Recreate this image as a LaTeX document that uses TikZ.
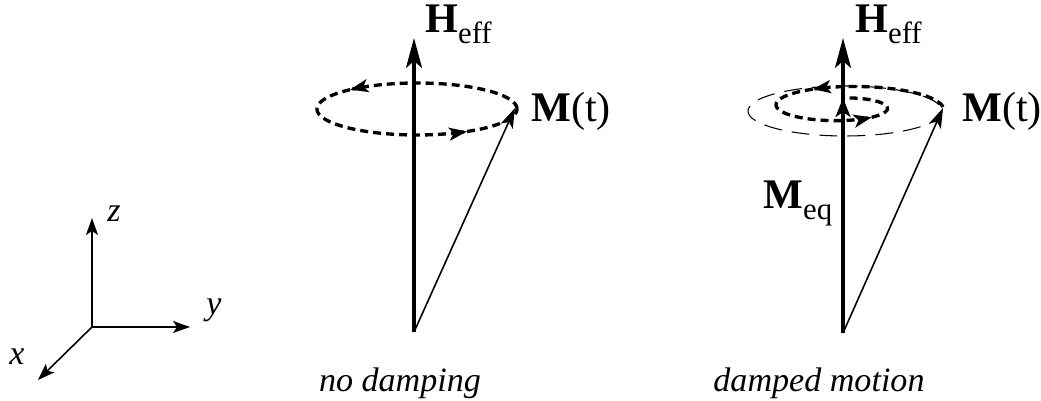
\documentclass[tikz,border=0pt]{standalone}
\usepackage{fontspec}
\setmainfont{Liberation Serif}
\usetikzlibrary{arrows.meta}

\newcommand\veclab[2]{\textbf{#1}\raisebox{-0.22cm}{\fontsize{17.5}{17.5}\selectfont #2}}

\begin{document}
\begin{tikzpicture}[x=0.02cm,y=-0.02cm,
  vec/.style={line width=1.8pt,-{Stealth[length=0.6cm,width=0.32cm,inset=0.14cm]}},
  thinvec/.style={line width=0.9pt,-{Stealth[length=0.4cm,width=0.26cm,inset=0.1cm]}},
  eqvec/.style={line width=1.8pt,-{Stealth[length=0.38cm,width=0.3cm,inset=0.1cm]}},
  axis/.style={line width=0.9pt,-{Stealth[length=0.34cm,width=0.24cm,inset=0.08cm]}},
  orbit/.style={line width=1.9pt,dash pattern=on 0.16cm off 0.1cm,-{Stealth[length=0.36cm,width=0.26cm,inset=0.09cm]}},
  lab/.style={inner sep=0pt,anchor=base west,font=\fontsize{24}{28}\selectfont},
  itlab/.style={inner sep=0pt,anchor=base,font=\fontsize{19.4}{23}\selectfont\itshape}]
  \useasboundingbox (0,0) rectangle (1041,401);

  % axes
  \coordinate (O) at (92,327);
  \coordinate (zt) at (92,218);
  \coordinate (yt) at (190,327);
  \coordinate (xt) at (38,380);
  \draw[axis] (O) -- (zt);
  \draw[axis] (O) -- (yt);
  \draw[axis] (O) -- (xt);
  \node[itlab,anchor=base west] (zlab) at (107,222) {z};
  \node[itlab,anchor=base west] (ylab) at (206,315) {y};
  \node[itlab,anchor=base west] (xlab) at (9,365) {x};

  % no damping
  \coordinate (baseL) at (414,332);
  \coordinate (HL) at (414,38);
  \coordinate (ML) at (515,108);
  \draw[orbit] plot[domain=0:132,samples=60,smooth] ({417+100*cos(\x)},{109-26*sin(\x)});
  \draw[orbit] plot[domain=132:300,samples=70,smooth] ({417+100*cos(\x)},{109-26*sin(\x)});
  \draw[orbit,-] plot[domain=300:360,samples=30,smooth] ({417+100*cos(\x)},{109-26*sin(\x)});
  \draw[vec] (baseL) -- (HL);
  \draw[thinvec] (baseL) -- (ML);
  \node[lab] (HLlab) at (425,33) {\veclab{H}{eff}};
  \node[lab] (MLlab) at (531,122) {\textbf{M}(t)};
  \node[itlab] (nodamp) at (400,392) {no damping};

  % damped motion
  \coordinate (baseR) at (843,333);
  \coordinate (HR) at (843,38);
  \coordinate (MR) at (943,108);
  \coordinate (Meq) at (843,98);
  \draw[line width=0.6pt,dash pattern=on 0.36cm off 0.2cm] (845,111) ellipse [x radius=97,y radius=25];
  \draw[orbit] plot[domain=0:113,samples=60,smooth] ({843+100*exp(-0.00227*\x)*cos(\x)},{107-25*exp(-0.00227*\x)*sin(\x)});
  \draw[orbit] plot[domain=113:305,samples=80,smooth] ({843+100*exp(-0.00227*\x)*cos(\x)},{107-25*exp(-0.00227*\x)*sin(\x)});
  \draw[orbit,-] plot[domain=305:452,samples=60,smooth] ({843+100*exp(-0.00227*\x)*cos(\x)},{107-25*exp(-0.00227*\x)*sin(\x)});
  \draw[vec] (baseR) -- (HR);
  \draw[eqvec] (baseR) -- (Meq);
  \draw[thinvec] (baseR) -- (MR);
  \node[lab] (HRlab) at (855,33) {\veclab{H}{eff}};
  \node[lab] (MRlab) at (962,122) {\textbf{M}(t)};
  \node[lab] (Meqlab) at (763,209) {\veclab{M}{eq}};
  \node[itlab] (damped) at (819,392) {damped motion};
\end{tikzpicture}
\end{document}
